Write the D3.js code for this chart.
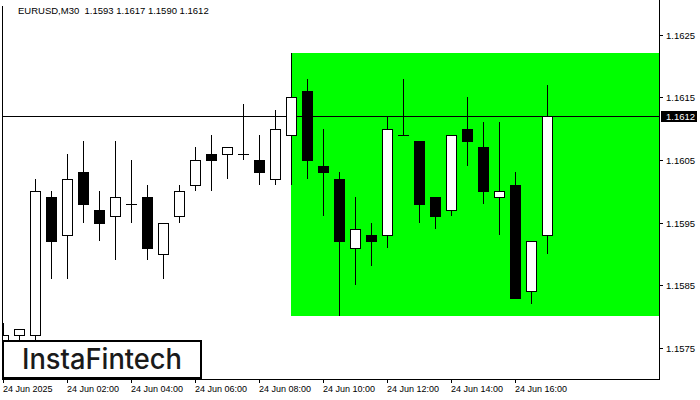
<!DOCTYPE html>
<html><head><meta charset="utf-8">
<script src="https://cdn.jsdelivr.net/npm/d3@7"></script>
<style>html,body{margin:0;padding:0;background:#fff;}svg{display:block;font-family:"Liberation Sans",Arial,sans-serif;}</style>
</head><body>
<svg id="c" width="700" height="400"></svg>
<script>
const title = "EURUSD,M30  1.1593 1.1617 1.1590 1.1612";
const opens  = [1.1574,1.1577,1.1577,1.1599,1.1593,1.1603,1.1597,1.1596,1.1598,1.1599,1.1590,1.1596,1.1601,1.1606,1.1606,1.1606,1.1605,1.1602,1.1609,1.1616,1.1604,1.1602,1.1591,1.1593,1.1593,1.1609,1.1608,1.1599,1.1597,1.1610,1.1607,1.1599,1.1601,1.1584,1.1593];
const highs  = [1.1579,1.1578,1.1602,1.1600,1.1606,1.1608,1.1600,1.1608,1.1605,1.1601,1.1595,1.1601,1.1607,1.1609,1.1607,1.1614,1.1609,1.1613,1.1622,1.1618,1.1610,1.1603,1.1599,1.1595,1.1612,1.1618,1.1608,1.1599,1.1609,1.1615,1.1611,1.1611,1.1603,1.1592,1.1617];
const lows   = [1.1571,1.1575,1.1575,1.1586,1.1586,1.1595,1.1592,1.1589,1.1595,1.1589,1.1586,1.1595,1.1600,1.1600,1.1602,1.1605,1.1601,1.1601,1.1601,1.1602,1.1596,1.1580,1.1585,1.1588,1.1591,1.1609,1.1595,1.1594,1.1596,1.1604,1.1598,1.1593,1.1583,1.1582,1.1590];
const closes = [1.1577,1.1578,1.1600,1.1592,1.1602,1.1598,1.1595,1.1599,1.1598,1.1591,1.1595,1.1600,1.1605,1.1605,1.1607,1.1606,1.1603,1.1610,1.1615,1.1605,1.1603,1.1592,1.1594,1.1592,1.1610,1.1609,1.1598,1.1596,1.1609,1.1608,1.1600,1.1600,1.1583,1.1592,1.1612];
const priceTicks = [1.1575,1.1585,1.1595,1.1605,1.1615,1.1625];
const timeTickIdx = [0,4,8,12,16,20,24,28,32];
const timeLabels = ["24 Jun 2025","24 Jun 02:00","24 Jun 04:00","24 Jun 06:00","24 Jun 08:00","24 Jun 10:00","24 Jun 12:00","24 Jun 14:00","24 Jun 16:00"];
const currentPrice = 1.1612;
const zoneStartIdx = 18;
const zoneTop = 1.1622, zoneBottom = 1.1580;
const logoText = "InstaFintech";

const svg = d3.select("#c");
const L = 3, R = 659, B = 379;
const y = d3.scaleLinear().domain([1.1575, 1.1625]).range([347.7, 34.7]);
const x = d3.scaleLinear().domain([0, 34]).range([3, 547]);
const snap = v => Math.round(v) + 0.5;

svg.append("defs").append("clipPath").attr("id","plot")
  .append("rect").attr("x",L).attr("y",0).attr("width",R-L).attr("height",B);

const g = svg.append("g").attr("clip-path","url(#plot)").attr("shape-rendering","crispEdges");

// zone
g.append("rect").attr("x", Math.round(x(zoneStartIdx))).attr("y", Math.round(y(zoneTop)))
  .attr("width", R - Math.round(x(zoneStartIdx))).attr("height", Math.round(y(zoneBottom)) - Math.round(y(zoneTop)))
  .attr("fill","#00ff00");

// current price line
g.append("line").attr("x1",L).attr("x2",R).attr("y1",snap(y(currentPrice))).attr("y2",snap(y(currentPrice)))
  .attr("stroke","#000").attr("stroke-width",1);

const data = opens.map((o,i)=>({i,o,h:highs[i],l:lows[i],c:closes[i]}));
const cg = g.selectAll("g.candle").data(data).join("g");
cg.append("line")
  .attr("x1",d=>x(d.i)+0.5).attr("x2",d=>x(d.i)+0.5)
  .attr("y1",d=>Math.round(y(d.h))).attr("y2",d=>Math.round(y(d.l)))
  .attr("stroke","#000").attr("stroke-width",1);
cg.each(function(d){
  const s = d3.select(this);
  const top = Math.round(y(Math.max(d.o,d.c))), bot = Math.round(y(Math.min(d.o,d.c)));
  if (bot - top < 1) {
    s.append("line").attr("x1",x(d.i)-5).attr("x2",x(d.i)+6).attr("y1",top+0.5).attr("y2",top+0.5)
      .attr("stroke","#000").attr("stroke-width",1);
  } else {
    s.append("rect").attr("x",x(d.i)-5+0.5).attr("y",top+0.5).attr("width",10).attr("height",bot-top)
      .attr("fill", d.c >= d.o ? "#fff" : "#000").attr("stroke","#000").attr("stroke-width",1);
  }
});

// frame
const fr = svg.append("g").attr("shape-rendering","crispEdges").attr("stroke","#000");
fr.append("line").attr("x1",2.5).attr("x2",2.5).attr("y1",6).attr("y2",B+1);
fr.append("line").attr("x1",R+0.5).attr("x2",R+0.5).attr("y1",0).attr("y2",B+1);
fr.append("line").attr("x1",2).attr("x2",R+1).attr("y1",B+0.5).attr("y2",B+0.5);

// price axis
const pa = svg.append("g");
priceTicks.forEach(p=>{
  const yy = snap(y(p));
  pa.append("line").attr("x1",R).attr("x2",R+4).attr("y1",yy).attr("y2",yy).attr("stroke","#000").attr("shape-rendering","crispEdges");
  pa.append("text").attr("x",666).attr("y",yy+3.5).attr("font-size","9.5px").attr("fill","#000").text(p.toFixed(4));
});
const cy = y(currentPrice);
pa.append("rect").attr("x",661).attr("y",Math.round(cy)-5).attr("width",36).attr("height",11).attr("fill","#000");
pa.append("text").attr("x",666).attr("y",Math.round(cy)+4).attr("font-size","9.5px").attr("fill","#fff").text(currentPrice.toFixed(4));

// time axis
const ta = svg.append("g");
timeTickIdx.forEach((ti,k)=>{
  const xx = x(ti)+0.5;
  ta.append("line").attr("x1",xx).attr("x2",xx).attr("y1",B).attr("y2",B+4).attr("stroke","#000").attr("shape-rendering","crispEdges");
  ta.append("text").attr("x",x(ti)).attr("y",392).attr("font-size","9px").attr("fill","#000").text(timeLabels[k]);
});

// title
svg.append("text").attr("x",18).attr("y",14).attr("font-size","9.5px").attr("fill","#000")
  .style("white-space","pre").attr("xml:space","preserve").text(title);

// logo
svg.append("rect").attr("x",3).attr("y",341).attr("width",198).attr("height",37)
  .attr("fill","#fff").attr("stroke","#000").attr("stroke-width",2).attr("shape-rendering","crispEdges");
svg.append("text").attr("x",22).attr("y",369).attr("font-family","Inter, 'Noto Sans', sans-serif")
  .attr("font-size","28px").attr("font-weight",500).attr("fill","#1a1a1a")
  .attr("textLength",160).attr("lengthAdjust","spacingAndGlyphs").text(logoText);
</script>
</body></html>
